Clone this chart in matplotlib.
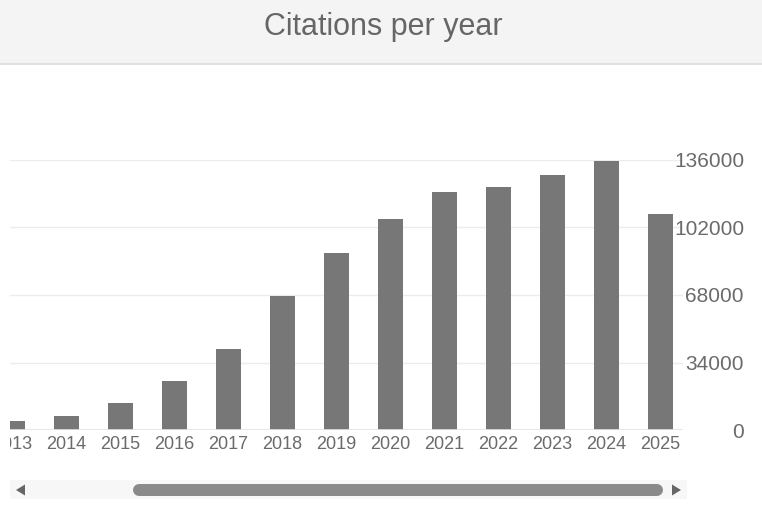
import matplotlib
matplotlib.use("Agg")
import matplotlib.pyplot as plt
from matplotlib.patches import Rectangle, Polygon
from matplotlib.transforms import Bbox, TransformedBbox

years = ["2013", "2014", "2015", "2016", "2017", "2018", "2019",
         "2020", "2021", "2022", "2023", "2024", "2025"]
citations = [4500, 7000, 13600, 24700, 40800, 67500, 89200,
             106300, 119900, 122400, 128400, 135500, 108800]
yticks = [0, 34000, 68000, 102000, 136000]
ytick_labels = ["0", "34000", "68000", "102000", "136000"]
title = "Citations per year"

W, H = 762, 516
plt.rcParams['font.family'] = ['Liberation Sans', 'DejaVu Sans']
fig = plt.figure(figsize=(W / 100, H / 100), dpi=100)
fig.patch.set_facecolor("white")


def fy(py):
    return 1 - py / H


# header
fig.patches.append(Rectangle((0, fy(63.5)), 1, 63.5 / H, transform=fig.transFigure,
                             facecolor="#f4f4f4", edgecolor="none", zorder=0))
fig.lines.append(plt.Line2D([0, 1], [fy(64), fy(64)], transform=fig.transFigure,
                            color="#dcdcdc", lw=1.2))
fig.text(383 / W, fy(35), title, ha="center", va="baseline", fontsize=22, color="#666666")

# axes
ax_l, ax_r, ax_b, ax_t = 10, 683, 430, 160
ax = fig.add_axes([ax_l / W, fy(ax_b), (ax_r - ax_l) / W, (ax_b - ax_t) / H])
ax.set_facecolor("white")
x = list(range(len(years)))
ax.bar(x, citations, width=25 / 54, color="#777777", zorder=2)
ax.set_xlim(-(2.5 / 54), 12 + 22.5 / 54)
ax.set_ylim(0, 136000)
for s in ax.spines.values():
    s.set_visible(False)
ax.set_yticks(yticks)
ax.set_yticklabels(ytick_labels)
ax.yaxis.tick_right()
ax.tick_params(axis="y", length=0, pad=61 * 0.72, labelsize=15, labelcolor="#6b6b6b")
for lbl in ax.get_yticklabels():
    lbl.set_horizontalalignment("right")
ax.grid(axis="y", color="#ececec", lw=1, zorder=0)
ax.set_xticks(x)
ax.set_xticklabels(years)
ax.tick_params(axis="x", length=0, pad=4, labelsize=13, labelcolor="#6b6b6b")
ax.axhline(0, color="#e3e3e3", lw=1.2, zorder=3)
clip = TransformedBbox(Bbox([[ax_l / W, 0], [1, 1]]), fig.transFigure)
for lbl in ax.get_xticklabels():
    lbl.set_clip_box(clip)
    lbl.set_clip_on(True)

# scrollbar
fig.patches.append(Rectangle((10 / W, fy(499)), (687 - 10) / W, 19 / H, transform=fig.transFigure,
                             facecolor="#f7f7f7", edgecolor="none"))
fig.lines.append(plt.Line2D([139 / W, 657 / W], [fy(490), fy(490)], transform=fig.transFigure,
                            color="#8a8a8a", lw=12 * 0.72, solid_capstyle="round"))
fig.patches.append(Polygon([(16 / W, fy(490)), (25 / W, fy(484.5)), (25 / W, fy(495.5))],
                           closed=True, transform=fig.transFigure, facecolor="#666666", edgecolor="none"))
fig.patches.append(Polygon([(681 / W, fy(490)), (672 / W, fy(484.5)), (672 / W, fy(495.5))],
                           closed=True, transform=fig.transFigure, facecolor="#666666", edgecolor="none"))

fig.savefig("out.png", dpi=100)
